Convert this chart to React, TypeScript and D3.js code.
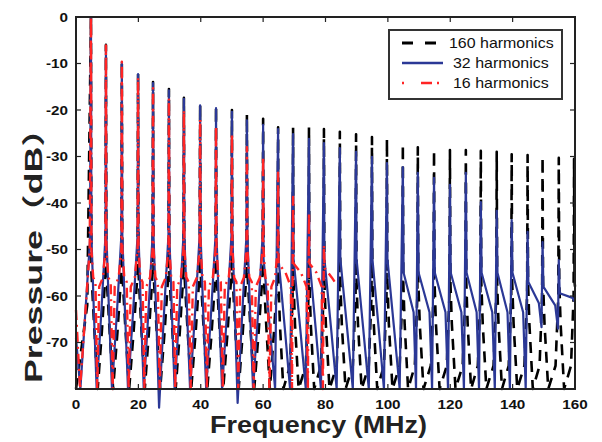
import React from 'react';
import * as d3 from 'd3';

type P = [number, number];

// ---------- data ----------
const xTicks = [0, 20, 40, 60, 80, 100, 120, 140, 160];
const yTicks = [0, -10, -20, -30, -40, -50, -60, -70];

// harmonic peak frequencies (MHz)
const peakFreqs = [4.8, 9.6, 14.7, 19.9, 24.7, 29.8, 34.6, 39.8, 44.9, 50.0, 54.8, 60.0, 64.8, 69.6, 74.7, 79.5,
  84.6, 89.8, 94.9, 99.7, 104.8, 109.6, 114.8, 119.9, 125.0, 129.8, 134.9, 139.7, 144.8, 149.6, 154.8, 159.7];

// 160 harmonics: peak levels (dB)
const blackPeakDb = [0, -6.0, -9.5, -12.0, -14.0, -15.5, -17.4, -18.7, -19.1, -20.0, -20.9, -21.9, -23.7, -23.7, -23.7, -24.1,
  -24.7, -25.2, -25.8, -26.2, -27.3, -28.0, -28.6, -28.6, -28.6, -28.8, -29.0, -29.5, -29.7, -30.1, -30.3, -30.5];
// 32 harmonics
const bluePeakDb = [0, -6.2, -9.7, -12.3, -14.2, -15.8, -17.6, -19.0, -19.6, -20.4, -22.2, -23.2, -24.1, -25.2, -26.2, -27.1,
  -28.2, -29.0, -30.1, -31.4, -32.3, -33.5, -34.6, -36.1, -33.5, -39.8, -41.7, -43.7, -46.2, -48.4, -52.3];
// 16 harmonics
const redPeakDb = [0, -6.1, -9.6, -13.0, -15.3, -17.5, -20.0, -22.0, -23.5, -25.0, -28.0, -30.0, -33.5, -38.7, -42.2, -49.0];

// inter-harmonic skirt shapes: [fraction of spacing, dB]
const blueSkirtLow: P[] = [[0.03, -47], [0.2, -64], [0.38, -80], [0.7, -63], [0.97, -47]];
const blueSkirtMid: P[] = [[0.03, -52], [0.45, -67], [0.8, -80]];
const blueSkirtHigh: P[] = [[0.05, -55], [0.72, -63.5], [0.88, -80]];
const blueSkirtE1: P[] = [[0.05, -57], [0.75, -61.5], [0.93, -66.7]];
const blueSkirtE2: P[] = [[0.05, -58], [0.78, -62], [0.95, -67]];
const blueSkirtE3: P[] = [[0.06, -59.4], [0.9, -60.4], [1.0, -61]];
const blueSkirtKind = ['L', 'L', 'L', 'L', 'L', 'L', 'L', 'L', 'L', 'L', 'L',
  'M', 'M', 'M', 'M', 'M', 'M', 'M', 'M', 'M',
  'H', 'H', 'H', 'H', 'H', 'H', 'H', 'H', 'E1', 'E2', 'E3'];
const blueDeepDips: P[] = [[4, -84], [9, -83]]; // [interval, dB]
const blueLead: P[] = [[0, -69], [1.4, -80], [4.5, -48]];
const blueTail: P[] = [[160, -61]];

const blackSkirtLow: P[] = [[0.03, -55], [0.22, -67], [0.45, -80], [0.72, -68], [0.97, -55]];
const blackSkirtHigh: P[] = [[0.03, -57], [0.12, -66], [0.35, -80], [0.8, -75], [0.97, -60]];
const blackSkirtKind = ['L', 'L', 'L', 'L', 'L', 'L', 'L', 'L', 'L', 'L', 'L', 'L',
  'H', 'H', 'H', 'H', 'H', 'H', 'H', 'H', 'H', 'H', 'H', 'H', 'H', 'H', 'H', 'H', 'H', 'H', 'H'];
const blackLead: P[] = [[0, -80], [3.6, -62]];
const blackTail: P[] = [[159.85, -57], [160, -58]];

const redSkirtLow: P[] = [[0.03, -50], [0.15, -56], [0.3, -57], [0.42, -80], [0.55, -58], [0.8, -56], [0.97, -50]];
const redSkirtMid: P[] = [[0.03, -53], [0.5, -55], [0.85, -58], [0.93, -80]];
const redSkirtKind = ['L', 'L', 'L', 'L', 'L', 'L', 'L', 'L', 'L', 'L', 'L', 'L', 'M', 'M', 'M'];
const redLead: P[] = [[0, -63], [1.3, -80], [4.4, -50]];
const redTail: P[] = [[79.7, -54], [82, -56], [83, -57]];

const legendLabels = ['160 harmonics', '32 harmonics', '16 harmonics'];

// ---------- helpers ----------
function buildSpectrum(lead: P[], peakDb: number[], kinds: string[], shapes: Record<string, P[]>, tail: P[], dips: P[] = []): P[] {
  const pts: P[] = [...lead];
  peakDb.forEach((v, k) => {
    pts.push([peakFreqs[k], v]);
    if (k < kinds.length && k + 1 < peakFreqs.length) {
      const a = peakFreqs[k];
      const b = peakFreqs[k + 1];
      const shape = shapes[kinds[k]];
      const dip = dips.find(d => d[0] === k);
      let minIdx = 0;
      shape.forEach((s, i) => { if (s[1] < shape[minIdx][1]) minIdx = i; });
      shape.forEach((s, i) => {
        pts.push([a + s[0] * (b - a), dip && i === minIdx ? dip[1] : s[1]]);
      });
    }
  });
  return [...pts, ...tail];
}

const BLUE = '#2b3896';
const RED = '#ff2424';
const FONT = '"Liberation Sans", Arial, "Noto Sans CJK SC", sans-serif';

export default function App() {
  const x = d3.scaleLinear().domain([0, 160]).range([76, 575]);
  const y = d3.scaleLinear().domain([-80, 0]).range([389, 17]);
  const line = d3.line<P>().x(d => x(d[0])).y(d => y(d[1]));

  const black = buildSpectrum(blackLead, blackPeakDb, blackSkirtKind, { L: blackSkirtLow, H: blackSkirtHigh }, blackTail);
  const blue = buildSpectrum(blueLead, bluePeakDb, blueSkirtKind,
    { L: blueSkirtLow, M: blueSkirtMid, H: blueSkirtHigh, E1: blueSkirtE1, E2: blueSkirtE2, E3: blueSkirtE3 }, blueTail, blueDeepDips);
  const red = buildSpectrum(redLead, redPeakDb, redSkirtKind, { L: redSkirtLow, M: redSkirtMid }, redTail);

  const [x0, x1] = x.range();
  const [y0, y1] = y.range();

  return (
    <div style={{ position: 'absolute', left: 0, top: 0 }}>
      <svg width={602} height={442} style={{ display: 'block', background: '#fff' }} fontFamily={FONT}>
        <rect x={0} y={0} width={602} height={442} fill="#fff" />
        {/* series */}
        <path d={line(black) || ''} fill="none" stroke="#000" strokeWidth={2.6} strokeDasharray="11,8" strokeLinejoin="round" />
        <path d={line(blue) || ''} fill="none" stroke={BLUE} strokeWidth={2.2} strokeLinejoin="round" />
        <path d={line(red) || ''} fill="none" stroke={RED} strokeWidth={2.4} strokeDasharray="10,5,2,5" strokeLinejoin="round" />

        {/* frame */}
        <rect x={x0} y={y1} width={x1 - x0} height={y0 - y1} fill="none" stroke="#222" strokeWidth={2} />
        {xTicks.map(t => (
          <g key={'xt' + t}>
            <line x1={x(t)} x2={x(t)} y1={y0} y2={y0 - 5} stroke="#222" strokeWidth={1.2} />
            <line x1={x(t)} x2={x(t)} y1={y1} y2={y1 + 5} stroke="#222" strokeWidth={1.2} />
            <text transform={`translate(${x(t)},${409}) scale(1.22,1)`} textAnchor="middle" fontSize={12.5} fontWeight="bold" fill="#111">{t}</text>
          </g>
        ))}
        {yTicks.map(t => (
          <g key={'yt' + t}>
            <line x1={x0} x2={x0 + 5} y1={y(t)} y2={y(t)} stroke="#222" strokeWidth={1.2} />
            <line x1={x1} x2={x1 - 5} y1={y(t)} y2={y(t)} stroke="#222" strokeWidth={1.2} />
            <text transform={`translate(${68},${y(t) + 4.5}) scale(1.22,1)`} textAnchor="end" fontSize={12.5} fontWeight="bold" fill="#111">{t}</text>
          </g>
        ))}

        {/* axis titles */}
        <text x={210} y={433} textLength={217} lengthAdjust="spacingAndGlyphs" fontSize={23} fontWeight="bold" fill="#222">Frequency (MHz)</text>
        <text transform="translate(42,383) rotate(-90)" textLength={272} lengthAdjust="spacingAndGlyphs" fontSize={23} fontWeight="bold" fill="#222">Pressure（dB）</text>

        {/* legend */}
        <rect x={389} y={30} width={173} height={69} fill="#fff" stroke="#333" strokeWidth={2} />
        <line x1={402} x2={443} y1={43} y2={43} stroke="#000" strokeWidth={3} strokeDasharray="11,12" />
        <line x1={402} x2={443} y1={63} y2={63} stroke={BLUE} strokeWidth={2.5} />
        <line x1={402} x2={443} y1={83} y2={83} stroke={RED} strokeWidth={2.5} strokeDasharray="2,17,11,5" />
        {legendLabels.map((s, i) => (
          <text key={s} transform={`translate(${i === 0 ? 449 : 453},${48 + i * 20}) scale(1.14,1)`} fontSize={14} fill="#111">{s}</text>
        ))}
      </svg>
    </div>
  );
}
